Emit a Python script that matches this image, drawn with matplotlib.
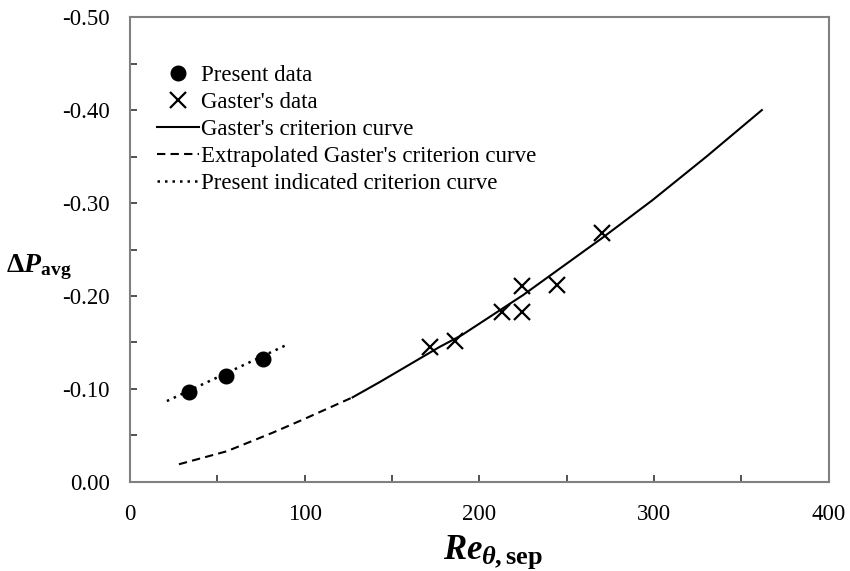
import matplotlib
matplotlib.use("Agg")
import matplotlib.pyplot as plt
from matplotlib.ticker import MultipleLocator, FormatStrFormatter

plt.rcParams['font.family'] = ['Liberation Serif', 'DejaVu Serif']
plt.rcParams['mathtext.fontset'] = 'custom'
plt.rcParams['mathtext.rm'] = 'Liberation Serif'
plt.rcParams['mathtext.it'] = 'Liberation Serif:italic'
plt.rcParams['mathtext.bf'] = 'Liberation Serif:bold'
plt.rcParams['mathtext.bfit'] = 'Liberation Serif:bold:italic'

# present data (filled circles)
present_re = [33.7, 54.9, 76.0]
present_dp = [-0.097, -0.114, -0.132]

# Gaster's data (crosses)
gaster_re = [172, 186.3, 213, 224.6, 224.6, 244.6, 270.3]
gaster_dp = [-0.145, -0.152, -0.183, -0.183, -0.211, -0.212, -0.268]

# Gaster's criterion curve
crit_re = [127.4, 143, 177, 190, 225, 270, 299, 330, 361.7]
crit_dp = [-0.091, -0.1075, -0.145, -0.158, -0.201, -0.262, -0.303, -0.350, -0.400]

# extrapolated part
extra_re = [28, 55.4, 81.7, 98.9, 127.4]
extra_dp = [-0.019, -0.033, -0.053, -0.067, -0.091]

# present indicated criterion curve
ind_re = [21.1, 90.3]
ind_dp = [-0.087, -0.148]

fig = plt.figure(figsize=(8.5, 5.71), dpi=100)
ax = fig.add_axes([0.153, 0.156, 0.822, 0.814])

ax.plot(present_re, present_dp, 'o', color='black', markersize=10.5, label='Present data', zorder=3)
ax.plot(gaster_re, gaster_dp, 'x', color='black', markersize=11, mew=1.6, label="Gaster's data", zorder=3)
ax.plot(crit_re, crit_dp, '-', color='black', lw=1.5, label="Gaster's criterion curve")
ax.plot(extra_re, extra_dp, color='black', lw=1.5, linestyle=(0, (4, 2.5)),
        label="Extrapolated Gaster's criterion curve")
ax.plot(ind_re, ind_dp, color='black', lw=1.8, linestyle=(0, (1, 2)),
        label='Present indicated criterion curve')

ax.set_xlim(0, 400)
ax.set_ylim(0, -0.5)
ax.xaxis.set_major_locator(MultipleLocator(100))
ax.xaxis.set_minor_locator(MultipleLocator(50))
ax.yaxis.set_major_locator(MultipleLocator(0.1))
ax.yaxis.set_minor_locator(MultipleLocator(0.05))
ax.yaxis.set_major_formatter(FormatStrFormatter('%.2f'))
ax.tick_params(which='both', direction='in', top=False, right=False, labelsize=16.5, color='#333333')
ax.tick_params(which='both', length=5, width=1.2)
ax.tick_params(axis='x', which='major', pad=16)
ax.tick_params(axis='y', which='major', pad=14.5)
for s in ax.spines.values():
    s.set_color('#808080')
    s.set_linewidth(1.5)

# x label built from two pieces so the subscript can be sized like the original
ax.text(0.505, -0.165, r'$\mathbfit{Re}$', transform=ax.transAxes, fontsize=25,
        ha='right', va='baseline')
ax.text(0.503, -0.176, r'$\mathbfit{\theta}\mathbf{,sep}$', transform=ax.transAxes, fontsize=19,
        ha='left', va='baseline')
ax.set_ylabel(r'$\mathbf{\Delta}\mathbfit{P}_{\mathbf{avg}}$', fontsize=20, rotation=0)
ax.yaxis.set_label_coords(-0.13, 0.43)

ax.legend(loc='upper left', bbox_to_anchor=(0.039, 0.898), frameon=False, fontsize=16.5,
          handlelength=1.8, handletextpad=0.1, labelspacing=0.27, borderpad=0, borderaxespad=0)

fig.savefig('out.png', dpi=100)
